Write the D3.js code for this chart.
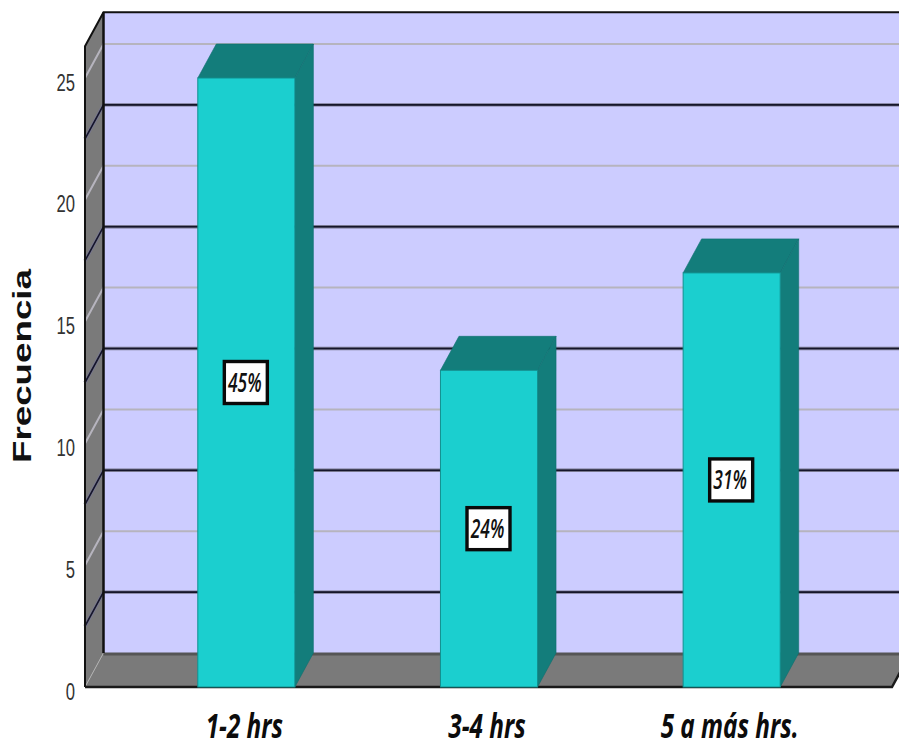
<!DOCTYPE html>
<html lang="es">
<head>
<meta charset="utf-8">
<title>Frecuencia</title>
<script src="https://cdn.jsdelivr.net/npm/d3@7"></script>
<style>
  html, body { margin: 0; padding: 0; background: #fff; overflow: hidden; }
  svg { display: block; }
</style>
</head>
<body>
<div id="chart"></div>
<script>
const categories = ["1-2 hrs", "3-4 hrs", "5 a más hrs."];
const frequencies = [25, 13, 17];
const percentLabels = ["45%", "24%", "31%"];
const yTicks = [0, 5, 10, 15, 20, 25];
const minorGrid = [2.5, 7.5, 12.5, 17.5, 22.5];
const majorGrid = [5, 10, 15, 20, 25];
const yMax = 26.3;
const yAxisTitle = "Frecuencia";

const width = 899, height = 742;
const depthX = 18.5, depthY = -34;        // oblique offset from front plane to back wall
const floorY = 687, axisLeft = 85, axisRight = 892;

const svg = d3.select("#chart").append("svg")
  .attr("width", width).attr("height", height);

const x = d3.scaleBand().domain(categories).range([125, 853])
  .paddingInner(0.6).paddingOuter(0.3);
const y = d3.scaleLinear().domain([0, yMax]).range([floorY, floorY - 24.36 * yMax]);

const poly = pts => pts.map(p => p.join(",")).join(" ");
const topY = y(yMax);

// Back wall, side wall and floor of the 3D box
svg.append("polygon").attr("fill", "#ccccff").attr("points", poly([
  [axisLeft + depthX, topY + depthY], [axisRight + depthX, topY + depthY],
  [axisRight + depthX, floorY + depthY], [axisLeft + depthX, floorY + depthY]]));
svg.append("polygon").attr("fill", "#7a7a7a").attr("points", poly([
  [axisLeft, topY], [axisLeft + depthX, topY + depthY],
  [axisLeft + depthX, floorY + depthY], [axisLeft, floorY]]));
svg.append("polygon").attr("fill", "#7a7a7a").attr("points", poly([
  [axisLeft, floorY], [axisLeft + depthX, floorY + depthY],
  [axisRight + depthX, floorY + depthY], [axisRight, floorY]]));

// Gridlines: each runs along the side wall and then across the back wall
const gridPath = v => poly([
  [axisLeft, y(v)], [axisLeft + depthX, y(v) + depthY], [axisRight + depthX, y(v) + depthY]]);

svg.append("g").selectAll("polyline").data(majorGrid).join("polyline")
  .attr("points", gridPath).attr("fill", "none")
  .attr("stroke", "#b6b4be").attr("stroke-width", 2);

svg.append("g").selectAll("polyline").data(minorGrid).join("polyline")
  .attr("points", gridPath).attr("fill", "none")
  .attr("stroke", "#77778f").attr("stroke-width", 3.4);
svg.append("g").selectAll("polyline").data(minorGrid).join("polyline")
  .attr("points", gridPath).attr("fill", "none")
  .attr("stroke", "#15152a").attr("stroke-width", 1.6);

// Box edges
svg.append("polyline").attr("fill", "none").attr("stroke", "#b0b0b0").attr("stroke-width", 1)
  .attr("points", poly([[axisLeft, floorY], [axisLeft + depthX, floorY + depthY]]));
svg.append("line").attr("stroke", "#555").attr("stroke-width", 3)
  .attr("x1", axisLeft + depthX).attr("x2", axisRight + depthX)
  .attr("y1", floorY + depthY + 1).attr("y2", floorY + depthY + 1);
svg.append("polyline").attr("fill", "none").attr("stroke", "#111").attr("stroke-width", 2)
  .attr("points", poly([
    [axisLeft, floorY], [axisLeft, topY], [axisLeft + depthX, topY + depthY], [axisRight + depthX, topY + depthY]]));
svg.append("line").attr("stroke", "#111").attr("stroke-width", 2.5)
  .attr("x1", axisLeft + depthX).attr("x2", axisLeft + depthX)
  .attr("y1", topY + depthY).attr("y2", floorY + depthY);
svg.append("polyline").attr("fill", "none").attr("stroke", "#1a1a1a").attr("stroke-width", 2.4)
  .attr("points", poly([
    [axisLeft, floorY], [axisRight, floorY], [axisRight + depthX, floorY + depthY]]));

// Bars: top and side faces first, then the front
const bars = svg.append("g").selectAll("g")
  .data(categories.map((c, i) => ({ c, v: frequencies[i], pct: percentLabels[i] })))
  .join("g");

bars.append("polygon").attr("fill", "#137d7b").attr("stroke", "#0f6f6e").attr("stroke-width", 0.6)
  .attr("points", d => {
    const x0 = x(d.c), x1 = x0 + x.bandwidth(), t = y(d.v);
    return poly([[x0, t], [x0 + depthX, t + depthY], [x1 + depthX, t + depthY], [x1, t]]);
  });
bars.append("polygon").attr("fill", "#137d7b").attr("stroke", "#0f6f6e").attr("stroke-width", 0.6)
  .attr("points", d => {
    const x1 = x(d.c) + x.bandwidth(), t = y(d.v);
    return poly([[x1, t], [x1 + depthX, t + depthY], [x1 + depthX, floorY + depthY], [x1, floorY]]);
  });
bars.append("rect").attr("fill", "#1bcfcf").attr("stroke", "#12908f").attr("stroke-width", 1)
  .attr("x", d => x(d.c)).attr("y", d => y(d.v))
  .attr("width", x.bandwidth()).attr("height", d => floorY - y(d.v));

// Percentage boxes centred on each bar's front face
const boxW = 43, boxH = 42;
const labels = bars.append("g")
  .attr("transform", d => `translate(${x(d.c) + x.bandwidth() / 2 - 0.5},${y(d.v / 2)})`);
labels.append("rect")
  .attr("x", -boxW / 2).attr("y", -boxH / 2).attr("width", boxW).attr("height", boxH)
  .attr("fill", "#fff").attr("stroke", "#0a0a0a").attr("stroke-width", 3.4);
labels.append("text")
  .attr("transform", "translate(-1,9) scale(0.76,1.15)")
  .attr("text-anchor", "middle")
  .style("font", "italic 600 23px 'Open Sans', sans-serif")
  .attr("fill", "#111")
  .text(d => d.pct);

// Value axis labels
const yAxis = svg.append("g").attr("transform", `translate(${axisLeft},0)`)
  .call(d3.axisLeft(y).tickValues(yTicks).tickSize(0).tickFormat(d3.format("d")));
yAxis.select(".domain").remove();
yAxis.selectAll("text")
  .attr("x", 0).attr("dy", null)
  .attr("text-anchor", "end")
  .attr("transform", "translate(-10,12) scale(0.74,1.05)")
  .attr("fill", "#333")
  .style("font", "22.5px 'Liberation Sans', sans-serif");

// Category labels
const xAxis = svg.append("g").attr("transform", `translate(-2,${floorY})`)
  .call(d3.axisBottom(x).tickSize(0));
xAxis.select(".domain").remove();
xAxis.selectAll("text")
  .attr("y", 0).attr("dy", null)
  .attr("text-anchor", "middle")
  .attr("transform", "translate(0,51) scale(0.81,1.13)")
  .attr("fill", "#0c0c0c")
  .style("font", "italic 700 30px 'Open Sans', sans-serif");

// Axis title
svg.append("text")
  .attr("transform", "translate(31,366) rotate(-90) scale(1.47,1)")
  .attr("text-anchor", "middle")
  .attr("fill", "#111")
  .style("font", "700 25px 'Liberation Sans', sans-serif")
  .text(yAxisTitle);
</script>
</body>
</html>
